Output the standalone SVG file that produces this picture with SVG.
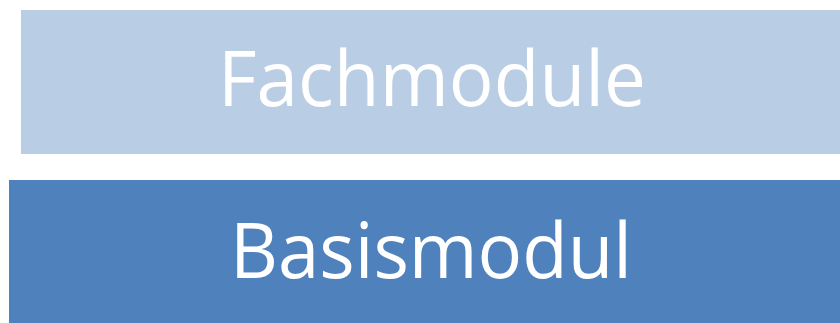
<svg xmlns="http://www.w3.org/2000/svg" width="840" height="323" viewBox="0 0 840 323">
<style>
.lbl{font-family:"Open Sans","Noto Sans","Liberation Sans",sans-serif;font-size:76px;fill:#FFFFFF;text-anchor:middle}
</style>
<rect width="840" height="323" fill="#FFFFFF"/>
<g id="fachmodule">
<rect x="21" y="10" width="819" height="144" fill="#B9CDE5"/>
<text class="lbl" x="432" y="106" textLength="428" lengthAdjust="spacingAndGlyphs">Fachmodule</text>
</g>
<g id="basismodul">
<rect x="9" y="180" width="831" height="143" fill="#4F81BD"/>
<text class="lbl" x="431" y="278" textLength="402" lengthAdjust="spacingAndGlyphs">Basismodul</text>
</g>
<g id="connectors"/>
</svg>
